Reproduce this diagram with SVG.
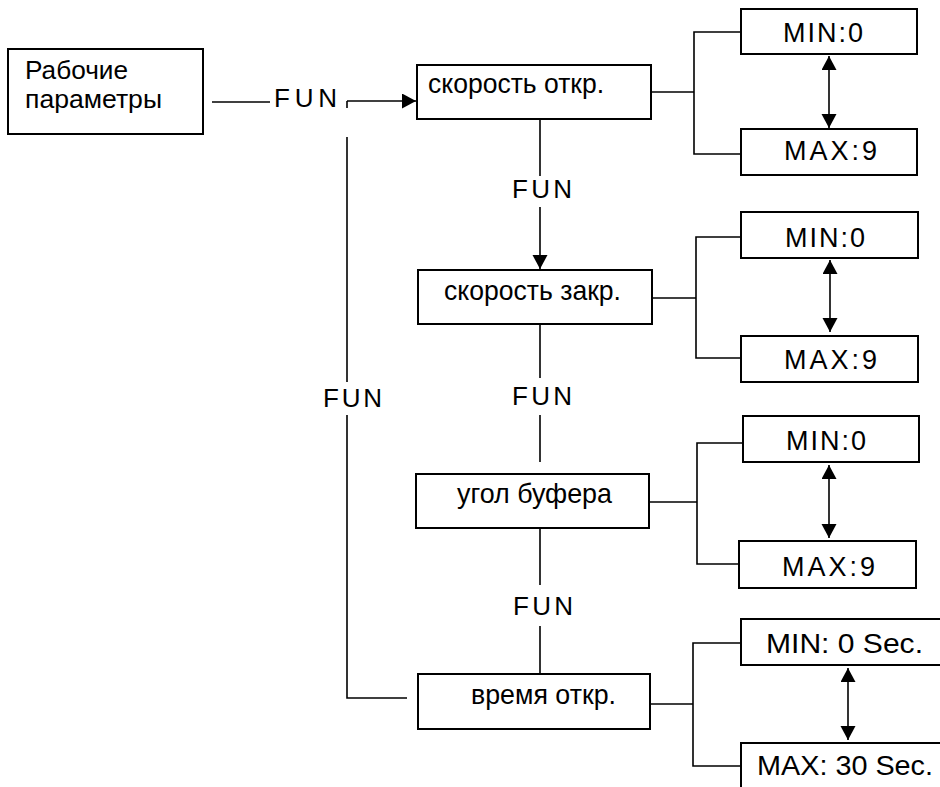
<svg xmlns="http://www.w3.org/2000/svg" width="940" height="787" viewBox="0 0 940 787">
<style>
.box{fill:#fff;stroke:#000;stroke-width:2}
.ln{fill:none;stroke:#000;stroke-width:1.6}
.t{font-family:"Liberation Sans",Arial,sans-serif;font-size:26px;fill:#000}
.c{font-size:28px}
.f{font-size:26px}
.m{font-size:27px}
.s{font-size:28px}
</style>
<defs>
<marker id="ah" markerUnits="userSpaceOnUse" markerWidth="16" markerHeight="16" refX="14" refY="7.5" orient="auto-start-reverse" viewBox="0 0 16 16">
<path d="M0,0 L14,7.5 L0,15 z" fill="#000"/>
</marker>
</defs>
<rect width="940" height="787" fill="#fff"/>

<g id="connectors">
<line class="ln" x1="212" y1="102" x2="270" y2="102"/>
<line class="ln" x1="347" y1="101" x2="347" y2="108"/>
<line class="ln" x1="347" y1="101" x2="416" y2="101" marker-end="url(#ah)"/>
<line class="ln" x1="347" y1="137" x2="347" y2="382"/>
<polyline class="ln" points="347,415 347,698 407,698"/>
<line class="ln" x1="540" y1="117" x2="540" y2="176"/>
<line class="ln" x1="540" y1="207" x2="540" y2="269" marker-end="url(#ah)"/>
<line class="ln" x1="540" y1="318" x2="540" y2="378"/>
<line class="ln" x1="540" y1="415" x2="540" y2="462"/>
<line class="ln" x1="540" y1="523" x2="540" y2="585"/>
<line class="ln" x1="540" y1="626" x2="540" y2="674"/>
<line class="ln" x1="651" y1="92" x2="694" y2="92"/>
<polyline class="ln" points="741,32 694,32 694,154 741,154"/>
<line class="ln" x1="829" y1="56" x2="829" y2="128" marker-start="url(#ah)" marker-end="url(#ah)"/>
<line class="ln" x1="652" y1="298" x2="696" y2="298"/>
<polyline class="ln" points="741,237 696,237 696,358 741,358"/>
<line class="ln" x1="830" y1="260" x2="830" y2="332" marker-start="url(#ah)" marker-end="url(#ah)"/>
<line class="ln" x1="649" y1="502" x2="697" y2="502"/>
<polyline class="ln" points="743,443 697,443 697,564 739,564"/>
<line class="ln" x1="829" y1="465" x2="829" y2="538" marker-start="url(#ah)" marker-end="url(#ah)"/>
<line class="ln" x1="650" y1="704" x2="693" y2="704"/>
<polyline class="ln" points="741,643 693,643 693,766 741,766"/>
<line class="ln" x1="848" y1="668" x2="848" y2="740" marker-start="url(#ah)" marker-end="url(#ah)"/>
<text class="t f" x="274" y="107" textLength="63" lengthAdjust="spacing">FUN</text>
<text class="t f" x="512" y="198" textLength="60" lengthAdjust="spacing">FUN</text>
<text class="t f" x="323" y="407" textLength="59" lengthAdjust="spacing">FUN</text>
<text class="t f" x="512" y="405" textLength="60" lengthAdjust="spacing">FUN</text>
<text class="t f" x="513" y="615" textLength="60" lengthAdjust="spacing">FUN</text>
</g>

<g id="node-params">
<rect class="box" x="8" y="49" width="195" height="85"/>
<text class="t" x="25" y="79" textLength="103" lengthAdjust="spacingAndGlyphs">Рабочие</text>
<text class="t" x="25" y="108" textLength="137" lengthAdjust="spacingAndGlyphs">параметры</text>
</g>

<g id="node-open-speed">
<rect class="box" x="417" y="65" width="234" height="54"/>
<text class="t c" x="428" y="93" textLength="176" lengthAdjust="spacingAndGlyphs">скорость откр.</text>
</g>
<g id="node-min1">
<rect class="box" x="741" y="9" width="176" height="45"/>
<text class="t m" x="783" y="42" textLength="80" lengthAdjust="spacing">MIN:0</text>
</g>
<g id="node-max1">
<rect class="box" x="741" y="129" width="176" height="46"/>
<text class="t m" x="784" y="160" textLength="93" lengthAdjust="spacing">MAX:9</text>
</g>

<g id="node-close-speed">
<rect class="box" x="418" y="270" width="234" height="54"/>
<text class="t c" x="444" y="300" textLength="177" lengthAdjust="spacingAndGlyphs">скорость закр.</text>
</g>
<g id="node-min2">
<rect class="box" x="741" y="212" width="177" height="46"/>
<text class="t m" x="785" y="247" textLength="80" lengthAdjust="spacing">MIN:0</text>
</g>
<g id="node-max2">
<rect class="box" x="741" y="336" width="177" height="46"/>
<text class="t m" x="784" y="369" textLength="93" lengthAdjust="spacing">MAX:9</text>
</g>

<g id="node-buffer-angle">
<rect class="box" x="416" y="474" width="233" height="54"/>
<text class="t c" x="457" y="503" textLength="155" lengthAdjust="spacingAndGlyphs">угол буфера</text>
</g>
<g id="node-min3">
<rect class="box" x="743" y="416" width="176" height="46"/>
<text class="t m" x="786" y="450" textLength="80" lengthAdjust="spacing">MIN:0</text>
</g>
<g id="node-max3">
<rect class="box" x="739" y="541" width="177" height="47"/>
<text class="t m" x="782" y="576" textLength="93" lengthAdjust="spacing">MAX:9</text>
</g>

<g id="node-open-time">
<rect class="box" x="418" y="674" width="232" height="55"/>
<text class="t c" x="471" y="704" textLength="145" lengthAdjust="spacingAndGlyphs">время откр.</text>
</g>
<g id="node-min4">
<rect class="box" x="741" y="619" width="210" height="46"/>
<text class="t s" x="766" y="653" textLength="157" lengthAdjust="spacingAndGlyphs">MIN: 0 Sec.</text>
</g>
<g id="node-max4">
<rect class="box" x="741" y="743" width="210" height="60"/>
<text class="t s" x="757" y="775" textLength="176" lengthAdjust="spacingAndGlyphs">MAX: 30 Sec.</text>
</g>
</svg>
